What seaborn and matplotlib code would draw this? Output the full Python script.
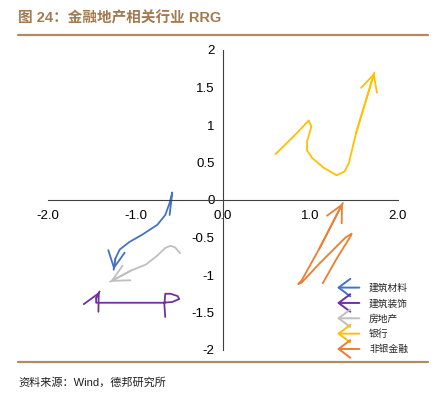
import matplotlib
matplotlib.use('Agg')
import matplotlib.pyplot as plt
import seaborn as sns
from matplotlib.lines import Line2D
from matplotlib.legend_handler import HandlerBase
from matplotlib.patches import FancyArrowPatch

# RRG trails (x = RS-ratio, y = RS-momentum)
sectors = ['建筑材料', '建筑装饰', '房地产', '银行', '非银金融']
colors = ['#4472C4', '#7030A0', '#BFBFBF', '#FFC000', '#ED7D31']

jczl_x = [-0.61, -0.59, -0.58, -0.61, -0.66, -0.75, -0.92, -1.07, -1.18, -1.23, -1.25]
jczl_y = [-0.20, 0.00, 0.10, -0.04, -0.20, -0.33, -0.46, -0.56, -0.66, -0.78, -0.93]

jzzs_x = [-0.66, -0.67, -0.66, -0.60, -0.52, -0.50, -0.58, -0.69, -1.00, -1.45, -1.45, -1.41]
jzzs_y = [-1.56, -1.40, -1.25, -1.25, -1.28, -1.32, -1.36, -1.37, -1.37, -1.37, -1.31, -1.22]

fdc_x = [-0.49, -0.55, -0.60, -0.66, -0.75, -0.88, -1.05, -1.29]
fdc_y = [-0.71, -0.63, -0.61, -0.64, -0.74, -0.86, -0.94, -1.09]

yh_x = [0.60, 0.85, 0.98, 1.01, 0.96, 0.96, 1.02, 1.15, 1.30, 1.39, 1.44, 1.52, 1.73]
yh_y = [0.61, 0.90, 1.06, 0.98, 0.78, 0.66, 0.56, 0.43, 0.33, 0.38, 0.50, 0.89, 1.70]

fyjr_x = [1.14, 1.30, 1.46, 1.47, 1.40, 1.10, 0.90, 0.86, 0.90, 1.10, 1.37]
fyjr_y = [-1.11, -0.78, -0.48, -0.45, -0.50, -0.85, -1.10, -1.12, -1.07, -0.65, -0.04]

trails = [(jczl_x, jczl_y), (jzzs_x, jzzs_y), (fdc_x, fdc_y), (yh_x, yh_y), (fyjr_x, fyjr_y)]

xticks = [-2.0, -1.0, 0.0, 1.0, 2.0]
xtick_labels = ['-2.0', '-1.0', '0.0', '1.0', '2.0']
yticks = [-2, -1.5, -1, -0.5, 0, 0.5, 1, 1.5, 2]
ytick_labels = ['-2', '-1.5', '-1', '-0.5', '0', '0.5', '1', '1.5', '2']

sns.set_style('white')
plt.rcParams['font.family'] = ['Liberation Sans', 'Noto Sans CJK SC', 'DejaVu Sans']

fig = plt.figure(figsize=(4.34, 3.96), dpi=100)
ax = fig.add_axes([48 / 434, 46 / 396, 350 / 434, 300 / 396])

for (xs, ys), c in zip(trails, colors):
    sns.lineplot(x=xs, y=ys, sort=False, estimator=None, color=c, lw=1.3, ax=ax)
    ax.annotate('', xy=(xs[-1], ys[-1]), xytext=(xs[-2], ys[-2]),
                arrowprops=dict(arrowstyle='->,head_length=0.7,head_width=0.35',
                                color=c, lw=1.3, shrinkA=0, shrinkB=0,
                                mutation_scale=17))

ax.set_xlim(-2, 2)
ax.set_ylim(-2, 2)
ax.set_xticks(xticks)
ax.set_xticklabels(xtick_labels)
ax.set_yticks(yticks)
ax.set_yticklabels(ytick_labels)
ax.spines['left'].set_position(('data', 0))
ax.spines['bottom'].set_position(('data', 0))
ax.spines['top'].set_visible(False)
ax.spines['right'].set_visible(False)
for s in ['left', 'bottom']:
    ax.spines[s].set_color('#404040')
    ax.spines[s].set_linewidth(0.8)
ax.tick_params(axis='both', direction='out', length=4, width=0.8, color='#404040',
               labelsize=9.5, labelcolor='black', pad=2)
ax.tick_params(axis='x', pad=3)
ax.set_facecolor('none')


class ArrowHandler(HandlerBase):
    def create_artists(self, legend, orig_handle, xdescent, ydescent, width, height, fontsize, trans):
        y = height / 2 - ydescent
        arr = FancyArrowPatch((width - xdescent, y), (-xdescent, y),
                              arrowstyle='->,head_length=0.6,head_width=0.45',
                              mutation_scale=14, color=orig_handle.get_color(),
                              lw=1.4, shrinkA=0, shrinkB=0, transform=trans)
        return [arr]


handles = [Line2D([], [], color=c) for c in colors]
leg = ax.legend(handles, sectors, handler_map={Line2D: ArrowHandler()},
                loc='upper left', bbox_to_anchor=(337 / 434, 1 - 283 / 396),
                bbox_transform=fig.transFigure, frameon=False,
                borderpad=0, borderaxespad=0,
                prop={'family': 'Noto Sans CJK SC', 'size': 7},
                handlelength=2.3, labelspacing=0.55, handletextpad=1.0)

# title, rules and source note
fig.text(18 / 434, 1 - 18 / 396, '图 24：金融地产相关行业 RRG', color='#A27B51',
         fontsize=10.5, fontweight='bold', va='center', ha='left',
         family=['Liberation Sans', 'Noto Sans CJK SC'])
fig.add_artist(Line2D([18 / 434, 428 / 434], [1 - 35 / 396, 1 - 35 / 396],
                      color='#B08A60', lw=1.6))
fig.add_artist(Line2D([18 / 434, 428 / 434], [1 - 362 / 396, 1 - 362 / 396],
                      color='#B08A60', lw=1.6))
fig.text(18 / 434, 1 - 382 / 396, '资料来源：Wind，德邦研究所', color='#202020',
         fontsize=8, va='center', ha='left',
         family=['Liberation Sans', 'Noto Sans CJK SC'])

fig.savefig('out.png', dpi=100)
